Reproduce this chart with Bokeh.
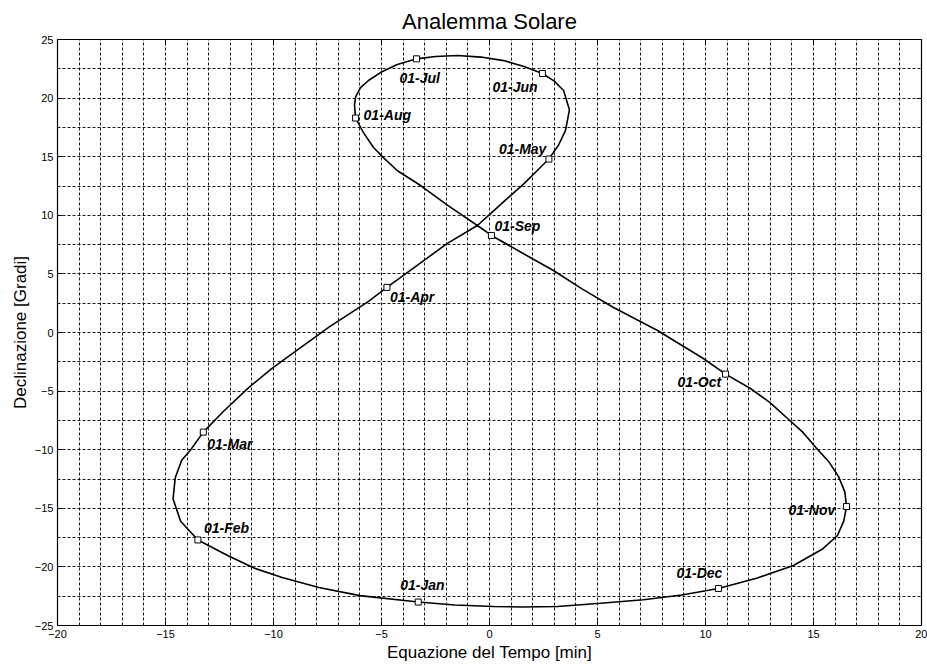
from bokeh.plotting import figure
from bokeh.models import LinearAxis, SingleIntervalTicker, ColumnDataSource, Range1d, CustomJSTickFormatter
from bokeh.embed import file_html
from bokeh.resources import INLINE
from bokeh.core.properties import value

# Analemma curve: equation of time [min], declination [deg]
eot = [-3.3, -6.0, -7.9, -9.6, -10.9, -12.1,
       -13.5, -14.3, -14.65, -14.55, -14.25, -13.85,
       -13.25, -12.3, -11.15, -10.1, -9.05, -7.4, -5.6,
       -4.75, -3.3, -1.95, -0.56, 0.05, 0.8, 1.6, 2.2,
       2.75, 3.2, 3.52, 3.7, 3.43, 3.0,
       2.45, 1.6, 0.65, -0.4, -1.48, -2.5,
       -3.38, -4.3, -5.05, -5.6, -5.97, -6.2, -6.25,
       -6.2, -5.85, -5.37, -4.9, -4.26, -3.19, -1.9, -0.56,
       0.09, 1.5, 2.96, 4.3, 5.74, 7.78, 9.9,
       10.93, 12.08, 13.0, 13.8, 14.5, 15.1, 15.7, 16.16, 16.45,
       16.53, 16.4, 16.11, 15.4, 14.07, 12.4,
       10.6, 8.9, 7.13, 5.14, 3.15, 1.5, 0.19, -1.6,
       -3.3]
dec = [-23.0, -22.45, -21.75, -20.9, -20.1, -19.05,
       -17.7, -16.1, -14.2, -12.4, -10.9, -10.05,
       -8.5, -6.7, -4.7, -3.1, -1.7, 0.5, 2.65,
       3.85, 5.8, 7.6, 9.13, 10.15, 11.4, 12.7, 13.8,
       14.8, 16.0, 17.24, 19.0, 20.65, 21.45,
       22.1, 22.7, 23.2, 23.5, 23.63, 23.55,
       23.35, 22.85, 22.18, 21.5, 20.9, 20.1, 19.4,
       18.3, 17.1, 15.78, 14.9, 13.8, 12.54, 10.8, 9.13,
       8.28, 6.8, 5.29, 3.7, 2.13, 0.17, -2.22,
       -3.55, -4.78, -6.0, -7.34, -8.5, -9.8, -11.0, -12.3, -13.6,
       -14.85, -16.1, -17.32, -18.5, -19.88, -20.95,
       -21.84, -22.4, -22.8, -23.1, -23.38, -23.42, -23.38, -23.25,
       -23.0]

# Month markers
month_labels = ["01-Jan", "01-Feb", "01-Mar", "01-Apr", "01-May", "01-Jun",
                "01-Jul", "01-Aug", "01-Sep", "01-Oct", "01-Nov", "01-Dec"]
mark_eot = [-3.3, -13.5, -13.25, -4.75, 2.75, 2.45, -3.38, -6.2, 0.09, 10.93, 16.53, 10.6]
mark_dec = [-23.0, -17.7, -8.5, 3.85, 14.8, 22.1, 23.35, 18.3, 8.28, -3.55, -14.85, -21.84]

# label placement (screen px, relative to marker)
label_dx = [-18, 6, 4, 3, -50, -50, -17, 8, 3, -48, -58, -42]
label_dy = [-17, -12, 12, 10, -10, 14, 19, -3, -9, 8, 3, -15]

FONT = "Liberation Sans"

p = figure(width=927, height=664, output_backend="svg", toolbar_location=None,
           x_range=Range1d(-20, 20), y_range=Range1d(-25, 25),
           title="Analemma Solare",
           min_border_left=57, min_border_right=6, min_border_top=39, min_border_bottom=39)

p.title.align = "center"
p.title.text_font = FONT
p.title.text_font_size = "22px"
p.title.text_font_style = "normal"
p.title.text_color = "black"
p.title.offset = 0
p.title.standoff = 12

p.outline_line_color = "black"
p.outline_line_width = 1.2
p.outline_line_alpha = 1
p.background_fill_color = "white"
p.border_fill_color = "white"

p.xaxis.ticker = SingleIntervalTicker(interval=5)
p.yaxis.ticker = SingleIntervalTicker(interval=5)

for ax in (p.xaxis[0], p.yaxis[0]):
    ax.major_tick_in = 5
    ax.major_tick_out = 0
    ax.minor_tick_in = 0
    ax.minor_tick_out = 0
    ax.axis_line_color = "black"
    ax.major_tick_line_color = "black"
    ax.major_label_text_font = FONT
    ax.major_label_text_font_size = "11px"
    ax.major_label_text_color = "black"
    ax.axis_label_text_font = FONT
    ax.axis_label_text_font_size = "17px"
    ax.axis_label_text_font_style = "normal"
    ax.axis_label_text_color = "black"
    ax.major_label_standoff = 4
    ax.axis_label_standoff = 2

p.xaxis.axis_label = "Equazione del Tempo [min]"
p.yaxis.axis_label = "Declinazione [Gradi]"

# mirrored tick marks on top and right (no labels)
blank = CustomJSTickFormatter(code="return ''")
top_ax = LinearAxis(ticker=SingleIntervalTicker(interval=5), formatter=blank)
right_ax = LinearAxis(ticker=SingleIntervalTicker(interval=5), formatter=blank)
for ax in (top_ax, right_ax):
    ax.major_tick_in = 5
    ax.major_tick_out = 0
    ax.minor_tick_in = 0
    ax.minor_tick_out = 0
    ax.major_label_standoff = 0
    ax.axis_line_color = "black"
p.add_layout(top_ax, "above")
p.add_layout(right_ax, "right")

p.xgrid.ticker = SingleIntervalTicker(interval=1)
p.ygrid.ticker = SingleIntervalTicker(interval=2.5)
for g in (p.xgrid[0], p.ygrid[0]):
    g.grid_line_color = "black"
    g.grid_line_alpha = 0.9
    g.grid_line_dash = "3 2"
    g.grid_line_width = 1

p.line(eot, dec, line_color="black", line_width=1.6)

src = ColumnDataSource(dict(x=mark_eot, y=mark_dec, t=month_labels, dx=label_dx, dy=label_dy))
p.scatter("x", "y", source=src, marker="square", size=6, fill_color="white",
          line_color="black", line_width=1)
p.text("x", "y", text="t", source=src, x_offset="dx", y_offset="dy",
       text_font=value(FONT), text_font_size="14px", text_font_style="bold italic",
       text_align="left", text_baseline="middle", text_color="black")

open("out.html", "w").write(file_html(p, INLINE))
